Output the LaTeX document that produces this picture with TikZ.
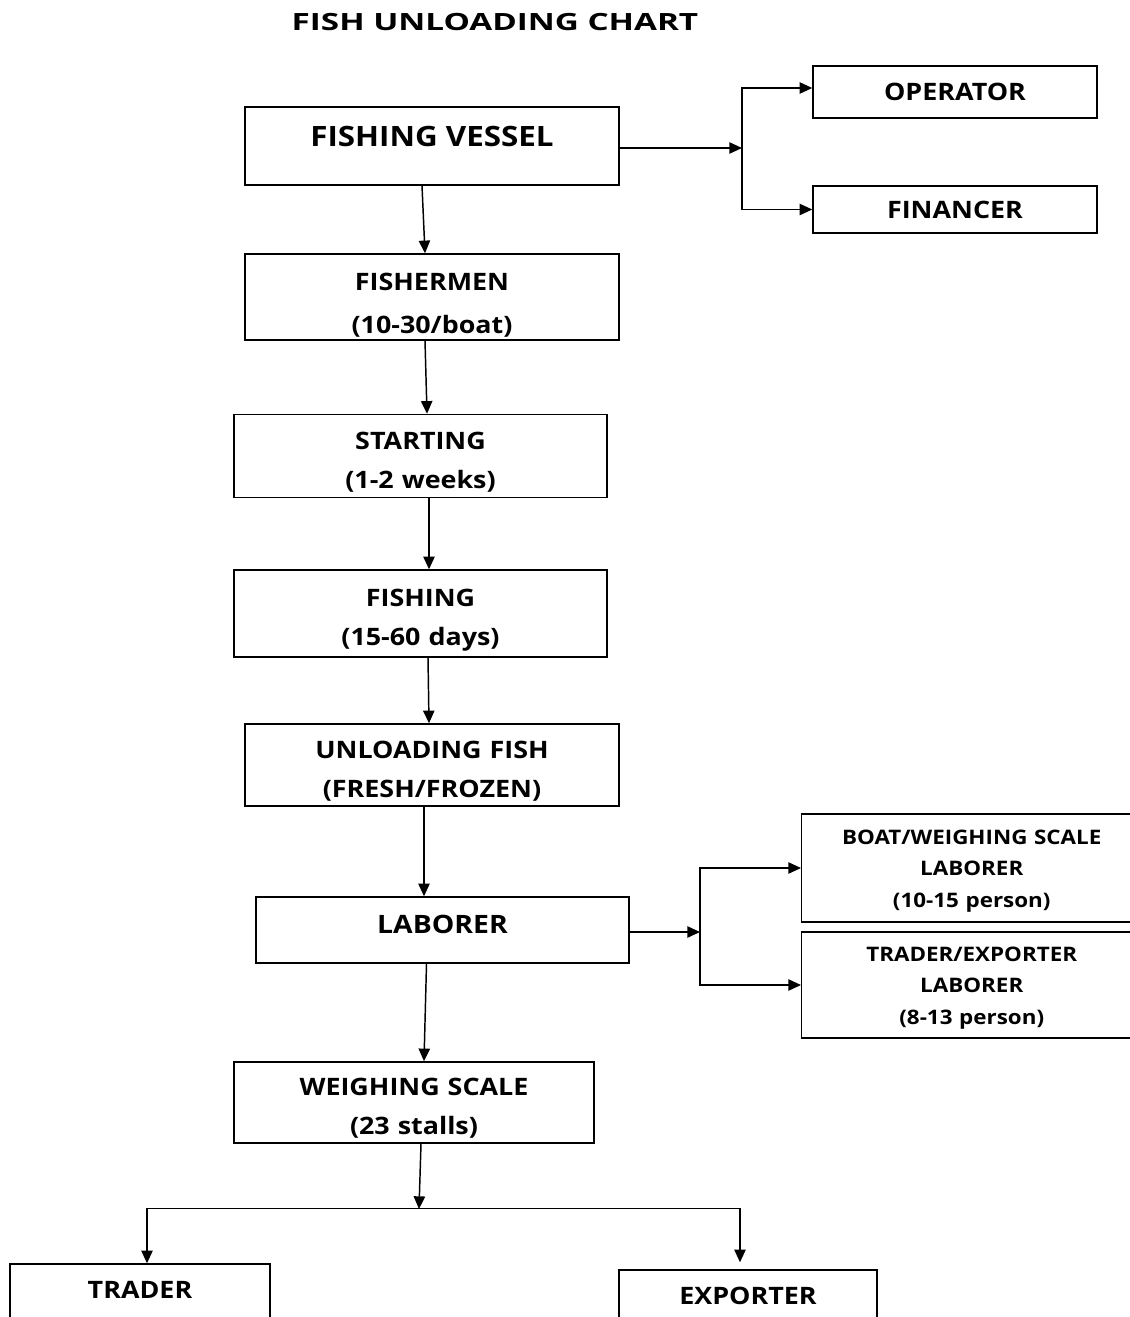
\documentclass[tikz,border=0pt]{standalone}
\usepackage{fontspec}
\setmainfont{Open Sans}[FakeStretch=1.12]
\newfontfamily\titlefont{Open Sans}[FakeStretch=1.4]
\usetikzlibrary{arrows.meta,calc}

\begin{document}
\begin{tikzpicture}[
  x=0.75pt, y=-0.75pt,
  box/.style={draw, line width=1.1pt, inner sep=0pt, align=center,
    font=\fontsize{18}{29}\selectfont\bfseries},
  twoline/.style={text width=250pt, text height=24pt, text depth=34pt},
  sidebox/.style={box, font=\fontsize{15}{23.5}\selectfont\bfseries,
    text width=225pt, text height=15.5pt, text depth=51pt},
  arrow/.style={-{Triangle[length=9.5pt, width=8.5pt]}, line width=1.1pt},
  line/.style={line width=1.1pt}
]
  \useasboundingbox (0,0) rectangle (1129,1317);

  % --- Title ---
  \node[font=\titlefont\fontsize{17.8}{20}\selectfont\bfseries] (title) at (495,22) {FISH UNLOADING CHART};

  % --- Main chain ---
  \node[box, minimum width=374*0.75pt, minimum height=78*0.75pt, text depth=15pt,
    font=\fontsize{21}{24}\selectfont\bfseries] (vessel) at (432,146) {FISHING VESSEL};
  \node[box, twoline, text height=27.5pt, text depth=37pt, minimum width=374*0.75pt,
    minimum height=84*0.75pt] (fishermen) at (432,297) {FISHERMEN\\[3pt](10-30/boat)};
  \node[box, twoline, minimum width=373*0.75pt, minimum height=83*0.75pt] (starting) at (420.5,456)
    {STARTING\\(1-2 weeks)};
  \node[box, twoline, minimum width=373*0.75pt, minimum height=87*0.75pt] (fishing) at (420.5,613.5)
    {FISHING\\(15-60 days)};
  \node[box, twoline, minimum width=374*0.75pt, minimum height=82*0.75pt] (unloading) at (432,765)
    {UNLOADING FISH\\(FRESH/FROZEN)};
  \node[box, minimum width=373*0.75pt, minimum height=66*0.75pt, text depth=9pt,
    font=\fontsize{19}{24}\selectfont\bfseries] (laborer) at (442.5,930) {LABORER};
  \node[box, twoline, minimum width=360*0.75pt, minimum height=81*0.75pt] (weighing) at (414,1102.5)
    {WEIGHING SCALE\\(23 stalls)};

  % --- Side boxes ---
  \node[box, minimum width=284*0.75pt, minimum height=52*0.75pt] (operator) at (955,92) {OPERATOR};
  \node[box, minimum width=284*0.75pt, minimum height=47*0.75pt] (financer) at (955,209.5) {FINANCER};
  \node[sidebox, minimum width=340*0.75pt, minimum height=108*0.75pt, anchor=west] (boatlab)
    at (801,868) {BOAT/WEIGHING SCALE\\LABORER\\(10-15 person)};
  \node[sidebox, minimum width=340*0.75pt, minimum height=106*0.75pt, anchor=west] (tradlab)
    at (801,985) {TRADER/EXPORTER\\LABORER\\(8-13 person)};

  % --- Bottom boxes ---
  \node[box, minimum width=260*0.75pt, minimum height=66*0.75pt, text depth=10.5pt] (trader) at (140,1297) {TRADER};
  \node[box, minimum width=258*0.75pt, minimum height=60*0.75pt, text depth=6pt] (exporter) at (748,1300) {EXPORTER};

  % --- Split points ---
  \coordinate (vsplit) at (742,148);
  \coordinate (lsplit) at (700,932);
  \coordinate (wsplit) at (419,1209);

  % --- Arrows: main chain ---
  \draw[arrow] ($(vessel.south)+(-10,0)$) -- ($(fishermen.north)+(-7,0)$);
  \draw[arrow] ($(fishermen.south)+(-7,0)$) -- ($(starting.north)+(6.5,0)$);
  \draw[arrow] ($(starting.south)+(8.5,0)$) -- ($(fishing.north)+(8.5,0)$);
  \draw[arrow] ($(fishing.south)+(7.5,0)$) -- ($(unloading.north)+(-3,0)$);
  \draw[arrow] ($(unloading.south)+(-8,0)$) -- ($(laborer.north)+(-18.5,0)$);
  \draw[arrow] ($(laborer.south)+(-16,0)$) -- ($(weighing.north)+(10,0)$);

  % --- Arrows: branches ---
  \draw[arrow] (vessel.east |- vsplit) -- (vsplit);
  \draw[arrow] (vsplit) |- ($(operator.west)+(0,-4)$);
  \draw[arrow] (vsplit) |- (financer.west);

  \draw[arrow] (laborer.east |- lsplit) -- (lsplit);
  \draw[arrow] (lsplit) |- (boatlab.west);
  \draw[arrow] (lsplit) |- (tradlab.west);

  \draw[arrow] ($(weighing.south)+(7,0)$) -- (wsplit);
  \draw[line] ($(trader.north)+(7,-55)$) -- ($(exporter.north)+(-8,-61)$);
  \draw[arrow] ($(trader.north)+(7,-55)$) -- ($(trader.north)+(7,0)$);
  \draw[arrow] ($(exporter.north)+(-8,-61)$) -- ($(exporter.north)+(-8,-7)$);
\end{tikzpicture}
\end{document}
